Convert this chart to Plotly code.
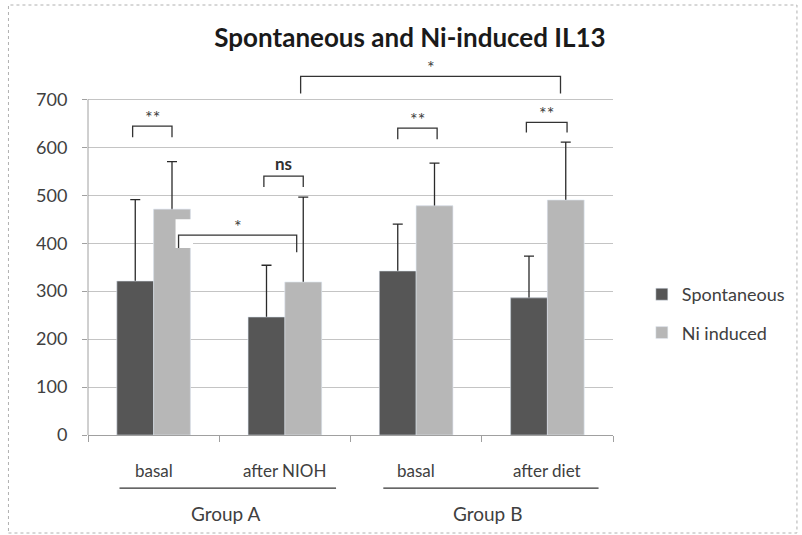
import plotly.graph_objects as go

# ---- data ----
categories = ["basal", "after NIOH", "basal", "after diet"]
groups = ["Group A", "Group B"]
group_members = [[0, 1], [2, 3]]
spontaneous = [321, 246, 342, 286]
spontaneous_err = [170, 108, 98, 87]
ni_induced = [471, 319, 478, 490]
ni_induced_err = [99, 177, 89, 121]
y_ticks = [0, 100, 200, 300, 400, 500, 600, 700]

# significance brackets: (x_left, x_right, top, left_leg_end, right_leg_end, label)
brackets = [
    (-0.16, 0.14, 644, 621, 621, "**"),
    (0.84, 1.14, 540, 517, 517, "ns"),
    (0.19, 1.09, 417, 390, 381, "*"),
    (1.12, 3.10, 748, 712, 712, "*"),
    (1.86, 2.16, 640, 617, 617, "**"),
    (2.84, 3.15, 652, 631, 631, "**"),
]

FONT = "Lato"
DARK = "#565656"
LIGHT = "#b7b7b7"
TXT = "#404040"

x = list(range(len(categories)))
err_style = dict(type="data", symmetric=False, color="#2a2a2a", thickness=1.3, width=5)
# lower end of the one-sided error bar sits just inside the bar (hidden by the cover bars)
hidden_minus = [4] * len(categories)

fig = go.Figure()
fig.add_trace(go.Bar(
    x=x, y=spontaneous, name="Spontaneous", marker_color=DARK,
    legendgroup="a", offsetgroup="s",
    error_y=dict(array=spontaneous_err, arrayminus=hidden_minus, **err_style),
))
fig.add_trace(go.Bar(
    x=x, y=ni_induced, name="Ni induced", marker_color=LIGHT,
    legendgroup="b", offsetgroup="n",
    error_y=dict(array=ni_induced_err, arrayminus=hidden_minus, **err_style),
))
# cover traces (hide lower cap of the one-sided error bars)
fig.add_trace(go.Bar(x=x, y=spontaneous, marker_color=DARK, offsetgroup="s",
                     showlegend=False, hoverinfo="skip"))
fig.add_trace(go.Bar(x=x, y=ni_induced, marker_color=LIGHT, offsetgroup="n",
                     showlegend=False, hoverinfo="skip"))

shapes = []
annotations = []

# white notch artefact over first Ni bar
shapes.append(dict(type="rect", xref="x", yref="y", x0=0.167, x1=0.30,
                   y0=390, y1=450, fillcolor="white", line_width=0, layer="above"))

for (xl, xr, top, ll, rl, lab) in brackets:
    shapes.append(dict(type="path", xref="x", yref="y",
                       path=f"M{xl},{ll} L{xl},{top} L{xr},{top} L{xr},{rl}",
                       line=dict(color="#333333", width=1.3), layer="above"))
    if lab == "ns":
        annotations.append(dict(x=(xl + xr) / 2, y=top, xref="x", yref="y",
                                text="<b>ns</b>", showarrow=False, yanchor="bottom",
                                yshift=0, font=dict(family=FONT, size=17, color="#303030")))
    else:
        annotations.append(dict(x=(xl + xr) / 2, y=top, xref="x", yref="y",
                                text=lab, showarrow=False, yanchor="bottom",
                                yshift=-4, font=dict(family=FONT, size=18, color="#404040")))

# left axis line (0..700 only)
shapes.append(dict(type="line", xref="paper", yref="y", x0=0, x1=0,
                   y0=0, y1=y_ticks[-1], line=dict(color="#a0a0a0", width=1)))

# category labels
for i, c in enumerate(categories):
    annotations.append(dict(x=i, y=0, xref="x", yref="paper", text=c,
                            showarrow=False, yanchor="middle", yshift=-35,
                            font=dict(family=FONT, size=17, color=TXT)))

# group labels and underlines
underline_ext = [(-0.26, 1.39), (1.75, 3.39)]
for g, members, (u0, u1) in zip(groups, group_members, underline_ext):
    gx = sum(members) / len(members)
    annotations.append(dict(x=gx, y=0, xref="x", yref="paper", text=g,
                            showarrow=False, yanchor="middle", yshift=-78, xshift=6,
                            font=dict(family=FONT, size=19, color=TXT)))
    shapes.append(dict(type="line", xref="x", yref="paper", x0=u0, x1=u1,
                       y0=-0.142, y1=-0.142, line=dict(color="#333333", width=1.2)))

# outer frame
shapes.append(dict(type="rect", xref="paper", yref="paper",
                   x0=(8 - 88) / 528, x1=(801 - 88) / 528,
                   y0=(435 - 533) / 374, y1=(435 - 5) / 374,
                   line=dict(color="#b0b0b0", width=1, dash="dot")))

fig.update_layout(
    width=802, height=535,
    margin=dict(l=88, r=186, t=61, b=100),
    paper_bgcolor="white", plot_bgcolor="white",
    barmode="group", bargap=0.44, bargroupgap=0,
    title=dict(text="<b>Spontaneous and Ni-induced IL13</b>", x=410 / 802, xanchor="center",
               y=1 - 38 / 535, yanchor="middle",
               font=dict(family=FONT, size=26, color="#1a1a1a")),
    font=dict(family=FONT, color=TXT),
    xaxis=dict(range=[-0.5, 3.5], tickvals=[-0.5, 0.5, 1.5, 2.5, 3.5],
               ticktext=["", "", "", "", ""], ticks="outside", ticklen=6,
               tickcolor="#a0a0a0", showline=True, linecolor="#a0a0a0",
               showgrid=False, zeroline=False),
    yaxis=dict(range=[0, 780], tickvals=y_ticks, ticks="outside", ticklen=5,
               tickcolor="#a0a0a0", showgrid=True, gridcolor="#c4c4c4",
               zeroline=False, showline=False, ticklabelstandoff=11,
               tickfont=dict(family=FONT, size=18, color=TXT)),
    legend=dict(x=(645 - 88) / 528, xanchor="left", y=(435 - 276) / 374, yanchor="top",
                font=dict(family=FONT, size=18, color=TXT),
                traceorder="grouped", tracegroupgap=12, bgcolor="rgba(0,0,0,0)"),
    shapes=shapes, annotations=annotations,
    showlegend=True,
)

fig.write_html("out.html", config={"displayModeBar": False},
               post_script="document.body.style.margin='0px';")
